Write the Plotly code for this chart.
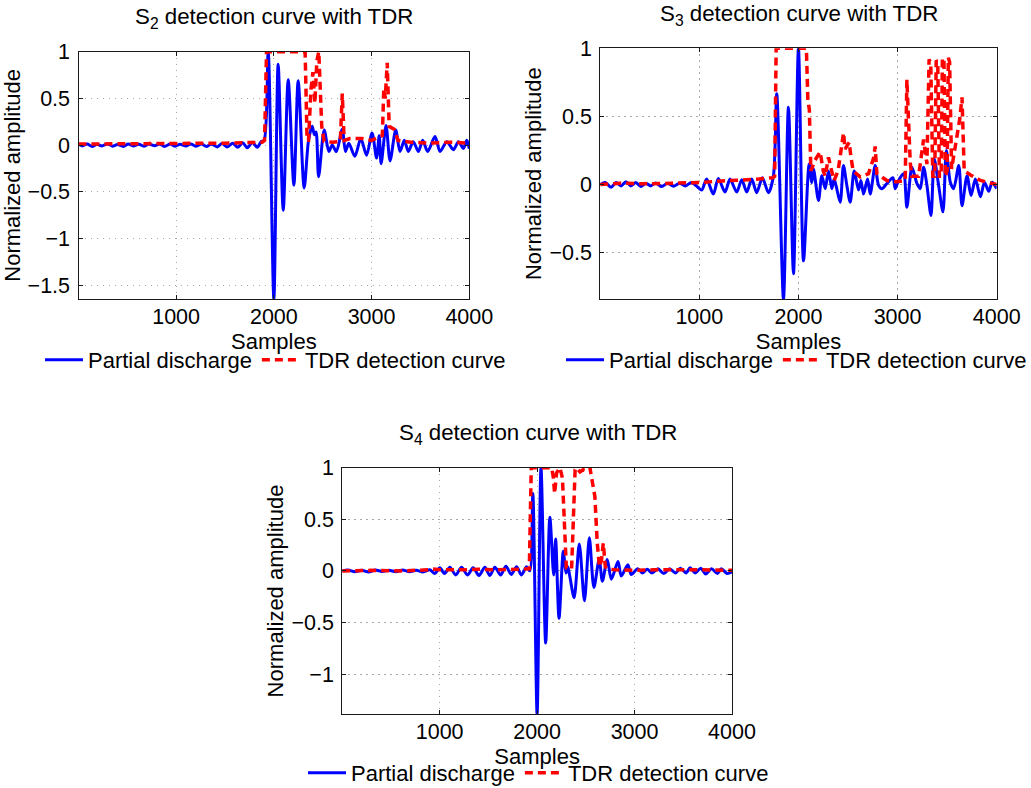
import plotly.graph_objects as go

W, H = 1031, 788

# ---------------- data ----------------
# S2 subplot
s2_pd_x = [0, 40, 90, 140, 190, 240, 300, 350, 400, 460, 510, 560, 620, 670, 720, 780, 830, 880, 940, 990,
           1040, 1100, 1150, 1200, 1260, 1310, 1360, 1420, 1470, 1520, 1580, 1630, 1680, 1730, 1780, 1830, 1870, 1900,
           1942, 2000, 2044, 2096, 2147, 2205, 2249, 2310, 2355, 2392, 2415, 2432, 2458, 2515, 2563, 2597, 2640,
           2700, 2733, 2767, 2829, 2890, 2949, 3005, 3051, 3078, 3098, 3148, 3189, 3247, 3291, 3335, 3376, 3427,
           3479, 3523, 3574, 3649, 3701, 3769, 3837, 3889, 3940, 3974, 4000]
s2_pd_y = [0.01, -0.01, 0.01, -0.015, 0.008, -0.01, 0.012, -0.012, 0.005, -0.015, 0.01, -0.01, 0.008, -0.012, 0.01,
           -0.008, 0.012, -0.015, 0.01, -0.012, 0.008, -0.01, 0.012, -0.012, 0.01, -0.015, 0.012, -0.02, 0.015, -0.02,
           0.02, -0.025, 0.025, -0.03, 0.03, -0.025, 0.035, 0.05,
           1.0, -1.65, 0.865, -0.70, 0.70, -0.43, 0.69, -0.46, 0.05, 0.20, 0.11, 0.14, -0.34, 0.16, -0.07, 0.0, -0.07,
           0.17, -0.07, 0.02, -0.12, 0.07, -0.11, 0.13, -0.14, 0.1, -0.2, 0.21, -0.17, 0.16, -0.07, 0.05, -0.07, 0.036,
           -0.07, 0.05, -0.07, 0.09, -0.07, 0.036, -0.05, 0.036, -0.036, 0.05, -0.04]
s2_tdr_x = [0, 300, 600, 900, 1200, 1500, 1700, 1880, 1905, 1925, 2320, 2340, 2355, 2380, 2400, 2420, 2440, 2460,
            2490, 2515, 2600, 2680, 2700, 2720, 2780, 2900, 3000, 3080, 3110, 3125, 3140, 3160, 3180, 3230, 3270,
            3400, 3600, 3800, 4000]
s2_tdr_y = [0.01, 0.012, 0.01, 0.012, 0.01, 0.02, 0.025, 0.03, 0.05, 1.0, 1.0, 0.05, 0.05, 0.6, 0.78, 0.45, 0.9, 1.0,
            0.2, 0.04, 0.03, 0.04, 0.55, 0.05, 0.07, 0.07, 0.05, 0.08, 0.1, 0.6, 0.5, 0.88, 0.2, 0.17, 0.05,
            0.03, 0.02, 0.03, 0.02]

# S3 subplot
s3_pd_x = [0, 50, 110, 160, 210, 260, 310, 360, 410, 460, 510, 560, 620, 680, 740, 800, 860, 920, 970,
           1024, 1074, 1141, 1192, 1259, 1310, 1377, 1428, 1478, 1529, 1579, 1636, 1697, 1747,
           1781, 1849, 1899, 1950, 2000, 2051, 2108, 2135, 2152, 2202, 2236, 2270, 2303, 2337, 2360, 2380, 2421,
           2454, 2488, 2522, 2562, 2606, 2630, 2657, 2697, 2724, 2774, 2808, 2842, 2892, 2953, 2976, 3010, 3060,
           3094, 3145, 3195, 3229, 3263, 3296, 3337, 3370, 3414, 3458, 3492, 3532, 3566, 3617, 3650, 3701, 3741,
           3785, 3836, 3876, 3920, 3954, 4000]
s3_pd_y = [0.0, 0.015, -0.02, 0.015, -0.01, 0.02, -0.01, 0.015, -0.015, 0.01, -0.01, 0.012, -0.015, 0.01, -0.012,
           0.01, -0.01, 0.015, -0.01,
           -0.04, 0.04, -0.07, 0.045, -0.055, 0.04, -0.055, 0.035, -0.055, 0.04, -0.06, 0.05, -0.06, 0.06,
           0.667, -0.84, 0.567, -0.655, 1.0, -0.56, 0.151, 0.015, 0.114, -0.117, 0.065, -0.03, 0.10, -0.03, 0.04,
           -0.01, -0.13, 0.139, -0.005, -0.13, 0.10, -0.04, 0.03, -0.07, 0.04, -0.07, 0.139, -0.005, -0.03, 0.008,
           0.05, -0.03, 0.03, 0.08, -0.167, 0.127, 0.008, -0.03, 0.127, -0.005, -0.227, 0.188, -0.005, -0.2, 0.249,
           0.017, -0.03, 0.139, -0.155, 0.065, -0.08, 0.04, -0.09, 0.017, -0.05, 0.017, -0.03]
s3_tdr_x = [0, 200, 500, 800, 1000, 1200, 1400, 1600, 1740, 1760, 1775, 2080, 2095, 2110, 2125, 2168, 2219, 2250,
            2269, 2303, 2335, 2360, 2400, 2421, 2455, 2470, 2488, 2512, 2530, 2552, 2623, 2707, 2760, 2774, 2791,
            2892, 2993, 3077, 3094, 3110, 3128, 3144, 3212, 3262, 3296, 3318, 3335, 3355, 3375, 3390, 3405, 3422,
            3440, 3452, 3468, 3482, 3500, 3512, 3525, 3545, 3600, 3627, 3650, 3672, 3737, 3836, 4000]
s3_tdr_y = [0.0, 0.01, 0.005, 0.01, 0.015, 0.025, 0.03, 0.04, 0.05, 0.06, 1.0, 1.0, 0.62, 0.55, 0.1, 0.18, 0.24, 0.1,
            0.06, 0.2, 0.1, 0.03, 0.1, 0.2, 0.38, 0.26, 0.28, 0.31, 0.2, 0.1, 0.056, 0.08, 0.2, 0.28, 0.08,
            0.03, 0.02, 0.03, 0.77, 0.5, 0.16, 0.06, 0.06, 0.33, 0.15, 0.92, 0.88, 0.06, 0.06, 0.91, 0.9, 0.06,
            0.06, 0.93, 0.9, 0.06, 0.1, 0.93, 0.9, 0.115, 0.36, 0.48, 0.64, 0.1, 0.07, 0.03, 0.0]

# S4 subplot
s4_pd_x = [0, 60, 130, 200, 270, 340, 410, 480, 550, 620, 690, 760, 830, 900, 950, 1002, 1050, 1105, 1165, 1225,
           1285, 1344, 1404, 1464, 1515, 1567, 1625, 1680, 1735, 1789, 1840, 1892, 1925,
           1956, 2000, 2040, 2088, 2131, 2170, 2190, 2225, 2269, 2296, 2315, 2337, 2380, 2433, 2486, 2536, 2583,
           2637, 2670, 2720, 2762, 2830, 2864, 2931, 2965, 3033, 3080, 3130, 3180, 3240, 3300, 3360, 3420, 3470,
           3530, 3570, 3620, 3680, 3730, 3790, 3850, 3890, 3950, 4000]
s4_pd_y = [0.0, 0.008, -0.008, 0.006, -0.01, 0.008, -0.006, 0.006, -0.008, 0.008, -0.008, 0.006, -0.01, 0.01,
           -0.025, 0.03, -0.025, 0.035, -0.04, 0.035, -0.04, 0.03, -0.045, 0.035, -0.045, 0.035, -0.04, 0.045,
           -0.035, 0.04, -0.04, 0.04, 0.0,
           0.75, -1.39, 1.0, -0.70, 0.52, -0.04, 0.31, -0.46, 0.19, -0.02, 0.04, -0.06, -0.26, 0.26, -0.29, 0.32,
           -0.16, 0.11, -0.1, 0.11, -0.08, 0.09, -0.05, 0.06, -0.035, 0.02, -0.02, 0.015, -0.02, 0.02, -0.025,
           0.02, -0.02, 0.025, -0.02, 0.03, -0.02, 0.025, -0.03, 0.02, -0.025, 0.02, -0.025, -0.01]
s4_tdr_x = [0, 300, 600, 880, 920, 1000, 1200, 1400, 1600, 1800, 1920, 1940, 2150, 2166, 2180, 2200, 2234, 2260,
            2275, 2300, 2354, 2370, 2390, 2405, 2440, 2473, 2500, 2542, 2570, 2593, 2617, 2640, 2660, 2679, 2700,
            2720, 2800, 3000, 3200, 3500, 3700, 4000]
s4_tdr_y = [0.0, 0.005, 0.0, 0.01, 0.02, 0.01, 0.01, 0.015, 0.01, 0.015, 0.02, 1.0, 1.0, 0.91, 0.75, 0.95, 1.0, 0.9,
            0.59, 0.03, 0.02, 0.5, 0.98, 1.0, 0.96, 0.98, 0.97, 1.0, 0.85, 0.72, 0.27, 0.04, 0.1, 0.27, 0.04,
            0.02, 0.01, 0.005, 0.01, 0.015, 0.01, 0.005]

x_ticks = [1000, 2000, 3000, 4000]
titles = ["S<sub>2</sub> detection curve with TDR",
          "S<sub>3</sub> detection curve with TDR",
          "S<sub>4</sub> detection curve with TDR"]
x_label = "Samples"
y_label = "Normalized amplitude"
y_ranges = [[-1.65, 1.0], [-0.84, 1.0], [-1.39, 1.0]]
y_ticks = [[-1.5, -1, -0.5, 0, 0.5, 1], [-0.5, 0, 0.5, 1], [-1, -0.5, 0, 0.5, 1]]
series_names = ["Partial discharge", "TDR detection curve"]

# ---------------- layout geometry (pixels) ----------------
boxes = [  # left, right, top, bottom
    (78.5, 469.3, 51.7, 299.0),
    (600.3, 996.7, 48.3, 299.0),
    (342.3, 732.0, 467.7, 714.3),
]
FONT = "Liberation Sans, Arial, Helvetica, sans-serif"
FS_TICK = 21.5
FS_TEXT = 22
FS_TITLE = 22.3

def px_x(p):
    return p / W

def px_y(p):
    return 1 - p / H

fig = go.Figure()
data = [(s2_pd_x, s2_pd_y, s2_tdr_x, s2_tdr_y),
        (s3_pd_x, s3_pd_y, s3_tdr_x, s3_tdr_y),
        (s4_pd_x, s4_pd_y, s4_tdr_x, s4_tdr_y)]

for i, (px_, py_, tx_, ty_) in enumerate(data):
    sfx = "" if i == 0 else str(i + 1)
    leg = "legend" + sfx
    fig.add_trace(go.Scatter(x=px_, y=py_, mode="lines", name=series_names[0],
                             line=dict(color="#0000ff", width=3, shape="spline", smoothing=0.8),
                             xaxis="x" + sfx, yaxis="y" + sfx, legend=leg))
    fig.add_trace(go.Scatter(x=tx_, y=ty_, mode="lines", name=series_names[1],
                             line=dict(color="#ff0000", width=3.5, dash="8px,5px"),
                             xaxis="x" + sfx, yaxis="y" + sfx, legend=leg))

layout = dict(width=W, height=H, paper_bgcolor="white", plot_bgcolor="white",
              margin=dict(l=0, r=0, t=0, b=0, autoexpand=False),
              font=dict(family=FONT, size=FS_TEXT, color="black"), showlegend=True)

axis_common = dict(showline=True, linecolor="#1a1a1a", linewidth=1.3, mirror="ticks",
                   ticks="inside", ticklen=4, tickcolor="#1a1a1a", tickwidth=1,
                   showgrid=True, gridcolor="#a8a8a8", griddash="1.5px,4.5px", gridwidth=1,
                   zeroline=False, tickfont=dict(family=FONT, size=FS_TICK, color="black"))

legend_pos = [(40, 360), (561, 360), (303, 773)]
y_standoff = [6.5, 1.5, 0.8]
annotations = []
for i, (l, r, t, b) in enumerate(boxes):
    sfx = "" if i == 0 else str(i + 1)
    layout["xaxis" + sfx] = dict(axis_common, domain=[px_x(l), px_x(r)], range=[1, 4000],
                                 tickvals=x_ticks, anchor="y" + sfx, ticklabelstandoff=-2,
                                 title=dict(text=x_label, standoff=0,
                                            font=dict(family=FONT, size=FS_TEXT, color="black")))
    layout["yaxis" + sfx] = dict(axis_common, domain=[px_y(b), px_y(t)], range=y_ranges[i],
                                 tickvals=y_ticks[i], anchor="x" + sfx, ticklabelstandoff=3,
                                 title=dict(text=y_label, standoff=y_standoff[i],
                                            font=dict(family=FONT, size=FS_TEXT, color="black")))
    lx, ly = legend_pos[i]
    layout["legend" + sfx] = dict(orientation="h", x=px_x(lx), y=px_y(ly), xanchor="left", yanchor="middle",
                                  bgcolor="rgba(0,0,0,0)", borderwidth=0, itemwidth=38,
                                  font=dict(family=FONT, size=FS_TEXT, color="black"), tracegroupgap=0)

# subplot titles
title_pos = [(274, 18), (799, 15), (537.5, 434)]
for i in range(3):
    tx, ty = title_pos[i]
    annotations.append(dict(text=titles[i], x=px_x(tx), y=px_y(ty), xref="paper", yref="paper",
                            xanchor="center", yanchor="middle", showarrow=False,
                            font=dict(family=FONT, size=FS_TITLE, color="black")))
layout["annotations"] = annotations

fig.update_layout(**layout)
fig.write_html("out.html", config={"displayModeBar": False},
               post_script="document.body.style.margin='0px';")
